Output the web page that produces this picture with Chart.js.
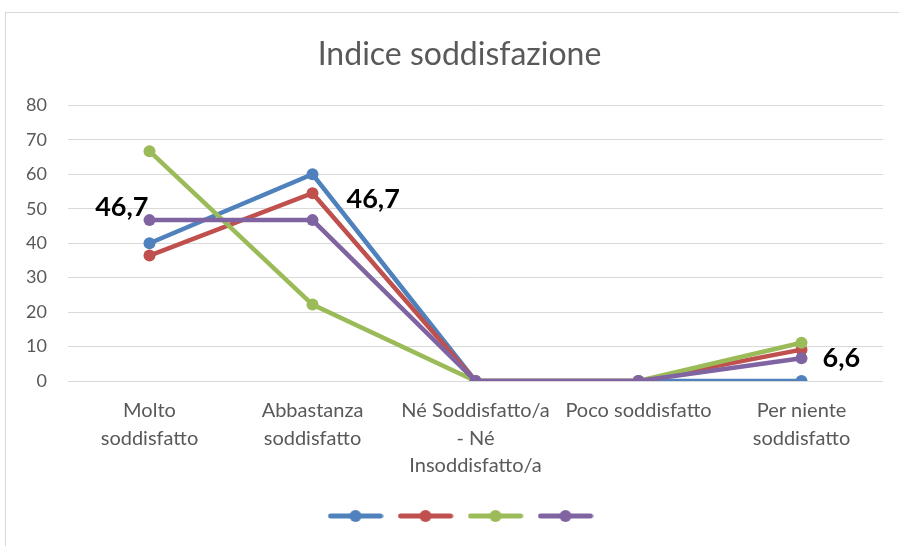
<!DOCTYPE html>
<html>
<head>
<meta charset="utf-8">
<script src="https://cdn.jsdelivr.net/npm/chart.js@4"></script>
<style>
  html, body { margin: 0; padding: 0; background: #fff; }
  #cornice { position: absolute; left: 5px; top: 12px; width: 900px; height: 540px; border: 1px solid #d9d9d9; }
  #grafico { position: absolute; left: 0; top: 0; }
</style>
</head>
<body>
<div id="cornice"></div>
<canvas id="grafico" width="899" height="546"></canvas>
<script>
"use strict"
// Dati
const categorie = [
    ["Molto", "soddisfatto"],
    ["Abbastanza", "soddisfatto"],
    ["Né Soddisfatto/a", "- Né", "Insoddisfatto/a"],
    ["Poco soddisfatto"],
    ["Per niente", "soddisfatto"]
];
const serieBlu = [40, 60, 0, 0, 0];
const serieRossa = [36.4, 54.5, 0, 0, 9.1];
const serieVerde = [66.7, 22.2, 0, 0, 11.1];
const serieViola = [46.7, 46.7, 0, 0, 6.6];
const tickY = [0, 10, 20, 30, 40, 50, 60, 70, 80];

const colori = ["#4F81BD", "#C0504D", "#9BBB59", "#8064A2"];
const testoGrigio = "#595959";

// simbolo della legenda: linea con pallino
function simbolo(colore) {
    let c = document.createElement("canvas");
    c.width = 56; c.height = 14;
    let ctx = c.getContext("2d");
    ctx.strokeStyle = colore;
    ctx.lineWidth = 5;
    ctx.lineCap = "round";
    ctx.beginPath(); ctx.moveTo(3, 7); ctx.lineTo(53, 7); ctx.stroke();
    ctx.fillStyle = colore;
    ctx.beginPath(); ctx.arc(28, 7, 6, 0, Math.PI * 2); ctx.fill();
    return c;
}

function serie(dati, i) {
    return {
        label: "",
        data: dati,
        borderColor: colori[i],
        backgroundColor: colori[i],
        borderWidth: 4.5,
        pointRadius: 6,
        pointHoverRadius: 6,
        pointBackgroundColor: colori[i],
        pointBorderWidth: 0,
        tension: 0,
        order: 3 - i // viola sopra
    };
}

// etichette della serie viola (solo alcuni punti)
const puntiEtichettati = [0, 1, 4];
const spostamenti = { 0: [-1, -13, "right"], 1: [34, -21, "left"], 4: [21, 0, "left"] };

const etichette = {
    id: "etichette",
    afterDatasetsDraw(chart) {
        let ctx = chart.ctx;
        let meta = chart.getDatasetMeta(3);
        ctx.save();
        ctx.font = "bold 27px Lato";
        ctx.fillStyle = "#000";
        ctx.textBaseline = "middle";
        puntiEtichettati.forEach(function (k) {
            let p = meta.data[k];
            let s = spostamenti[k];
            ctx.textAlign = s[2];
            let testo = serieViola[k].toFixed(1).replace(".", ",");
            ctx.fillText(testo, p.x + s[0], p.y + s[1]);
        });
        ctx.restore();
    }
};

// titolo e legenda centrati come nell'originale (spostati a destra)
const centratura = {
    id: "centratura",
    afterLayout(chart) {
        chart.titleBlock.left += 36;
        chart.legend.left += 44;
    }
};

const config = {
    type: "line",
    data: {
        labels: categorie,
        datasets: [serie(serieBlu, 0), serie(serieRossa, 1), serie(serieVerde, 2), serie(serieViola, 3)]
    },
    options: {
        responsive: false,
        animation: false,
        layout: { padding: { left: 0, right: 16, top: 0, bottom: 14 } },
        plugins: {
            tooltip: { enabled: false },
            title: {
                display: true,
                text: "Indice soddisfazione",
                color: testoGrigio,
                font: { family: "Lato", size: 32, weight: "normal", lineHeight: 1.2 },
                padding: { top: 35, bottom: 32 }
            },
            legend: {
                position: "bottom",
                labels: {
                    usePointStyle: true,
                    pointStyleWidth: 54,
                    padding: 10,
                    font: { size: 12 },
                    generateLabels: function (chart) {
                        return chart.data.datasets.map(function (d, i) {
                            return { text: "", pointStyle: simbolo(colori[i]), datasetIndex: i, lineWidth: 0, hidden: false };
                        });
                    }
                }
            }
        },
        scales: {
            x: {
                offset: true,
                grid: { display: false, drawTicks: false, offset: true },
                border: { display: false },
                ticks: {
                    color: testoGrigio,
                    font: { family: "Lato", size: 20, lineHeight: 1.38 },
                    padding: 16,
                    maxRotation: 0,
                    autoSkip: false
                },
                afterFit: function (scale) { scale.height = 119; }
            },
            y: {
                min: 0,
                max: 80,
                grid: { color: "#D9D9D9", lineWidth: 1, drawTicks: false },
                border: { display: false },
                ticks: {
                    color: testoGrigio,
                    font: { family: "Lato", size: 18 },
                    padding: 21,
                    stepSize: 10,
                    callback: function (v) { return tickY.includes(v) ? v : ""; }
                },
                afterFit: function (scale) { scale.width = 68; }
            }
        }
    },
    plugins: [etichette, centratura]
};

new Chart(document.getElementById("grafico"), config);
</script>
</body>
</html>
